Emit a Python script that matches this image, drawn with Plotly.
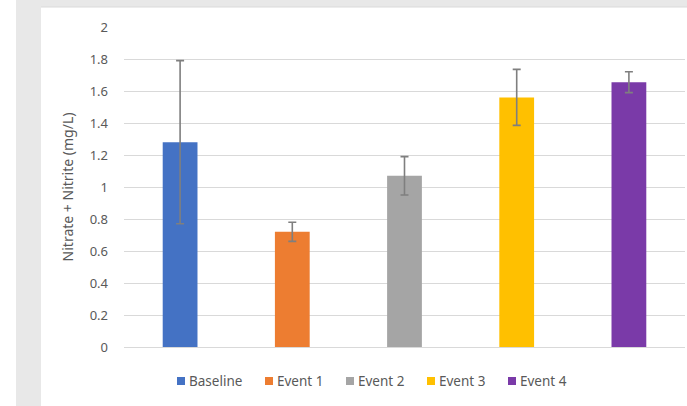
import plotly.graph_objects as go

categories = ["Baseline", "Event 1", "Event 2", "Event 3", "Event 4"]
values = [1.28, 0.72, 1.07, 1.56, 1.655]
errors = [0.51, 0.06, 0.12, 0.175, 0.065]
colors = ["#4472C4", "#ED7D31", "#A5A5A5", "#FFC000", "#7A3AA8"]
y_ticks = [0, 0.2, 0.4, 0.6, 0.8, 1, 1.2, 1.4, 1.6, 1.8, 2]

W, H = 687, 406
L, R, T, B = 124, 2, 27, 59
pw = W - L - R
ph = H - T - B

def px(x):
    return (x - L) / pw

def py(y):
    return (H - B - y) / ph

fig = go.Figure()
for c, v, e, col in zip(categories, values, errors, colors):
    fig.add_trace(go.Bar(
        x=[c], y=[v], name=c, marker=dict(color=col, line=dict(width=0)),
        width=0.31, showlegend=False,
        error_y=dict(type="data", array=[e], visible=True, color="#7F7F7F", thickness=1.6, width=4),
    ))

font_col = "#595959"
FONT = "Noto Sans, Open Sans, sans-serif"

# custom compact legend (Excel-like): small square + label
shapes = [
    dict(type="rect", xref="paper", yref="paper", x0=px(16), x1=px(W), y0=py(0), y1=py(7),
         fillcolor="#E8E8E8", line=dict(width=0), layer="below"),
    dict(type="rect", xref="paper", yref="paper", x0=px(16), x1=px(41), y0=py(H), y1=py(0),
         fillcolor="#E8E8E8", line=dict(width=0), layer="below"),
    dict(type="line", xref="paper", yref="paper", x0=px(41), x1=px(W), y0=py(7), y1=py(7),
         line=dict(color="#DADADA", width=1), layer="below"),
]
annotations = []
leg_y = 381
xcur = 177
for c, col in zip(categories, colors):
    shapes.append(dict(type="rect", xref="paper", yref="paper",
                       x0=px(xcur), x1=px(xcur + 8), y0=py(leg_y + 4), y1=py(leg_y - 4),
                       fillcolor=col, line=dict(width=0)))
    annotations.append(dict(text=c, xref="paper", yref="paper", x=px(xcur + 10), y=py(leg_y),
                            xanchor="left", yanchor="middle", showarrow=False,
                            font=dict(family=FONT, size=13.5, color=font_col)))
    xcur += 11 + len(c) * 7 + 21

fig.update_layout(
    width=W, height=H,
    margin=dict(l=L, r=R, t=T, b=B),
    paper_bgcolor="white", plot_bgcolor="white",
    barmode="overlay",
    font=dict(family=FONT, size=13, color=font_col),
    xaxis=dict(categoryorder="array", categoryarray=categories, range=[-0.5, 4.5],
               showticklabels=False, showgrid=False, showline=True, linecolor="#D9D9D9",
               linewidth=1, ticks="", zeroline=False),
    yaxis=dict(range=[0, 2], tickvals=y_ticks, ticktext=[f"{v:g}" for v in y_ticks],
               showgrid=True, gridcolor="#D9D9D9", gridwidth=1, zeroline=False,
               showline=False, ticks="", ticklabelstandoff=15,
               tickfont=dict(size=13, color=font_col),
               title=dict(text="Nitrate + Nitrite (mg/L)", font=dict(size=14, color=font_col), standoff=12)),
    showlegend=False,
    shapes=shapes,
    annotations=annotations,
)

fig.write_html("out.html", config={"displayModeBar": False},
               post_script="document.body.style.margin='0';document.body.style.padding='0';")
